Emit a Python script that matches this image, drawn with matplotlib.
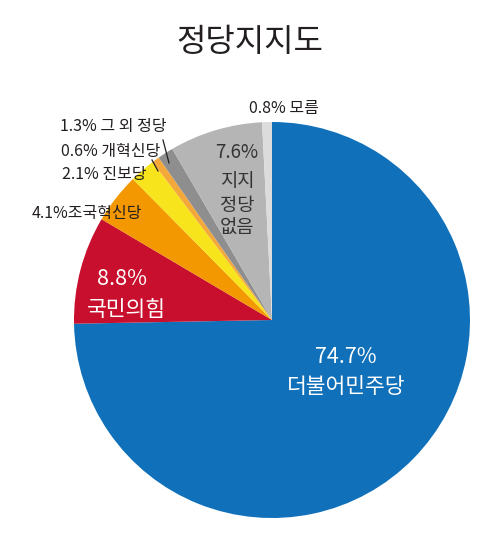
import matplotlib
matplotlib.use('Agg')
import matplotlib.pyplot as plt

plt.rcParams['font.family'] = ['Noto Sans CJK KR', 'DejaVu Sans']

parties = ['더불어민주당', '국민의힘', '조국혁신당', '진보당', '개혁신당', '그 외 정당', '지지 정당 없음', '모름']
shares = [74.7, 8.8, 4.1, 2.1, 0.6, 1.3, 7.6, 0.8]
colors = ['#1070b9', '#c8102e', '#f39800', '#f7e41c', '#f5a83a', '#8e8e8e', '#b5b5b5', '#dcdcdc']

fig = plt.figure(figsize=(5.0, 5.44), dpi=100)

# pie centre ~ (272, 320) px, radius ~198 px
cx, cy, r = 272, 320, 198
W, H = 500, 544
ax = fig.add_axes([(cx - r) / W, (H - cy - r) / H, 2 * r / W, 2 * r / H])
ax.pie(shares, colors=colors, startangle=90, counterclock=False, radius=1.0,
       wedgeprops=dict(linewidth=0))
ax.set_xlim(-1, 1)
ax.set_ylim(-1, 1)
ax.set_aspect('equal')
ax.axis('off')

def px(x, y):
    # pixel -> data coordinates
    return (x - cx) / r, (cy - y) / r

fig.text(0.5, 1 - 42 / H, '정당지지도', ha='center', va='center', fontsize=23, color='#231f20')

# inside labels
ax.text(*px(346, 357), f'{shares[0]}%', ha='center', va='center', fontsize=15.5, color='white')
ax.text(*px(346, 387), parties[0], ha='center', va='center', fontsize=15.5, color='white')
ax.text(*px(122, 279), f'{shares[1]}%', ha='center', va='center', fontsize=15.5, color='white')
ax.text(*px(126, 310), parties[1], ha='center', va='center', fontsize=15.5, color='white')
ax.text(*px(237, 152), f'{shares[6]}%', ha='center', va='center', fontsize=13.5, color='#333333')
for i, w in enumerate(['지지', '정당', '없음']):
    ax.text(*px(237, 182 + 23 * i), w, ha='center', va='center', fontsize=13.5, color='#333333')

# outside labels
out = [
    (2, 32, 213), (3, 62, 175), (4, 61, 151), (5, 60, 126),
]
for idx, x, y in out:
    sep = '' if idx == 2 else ' '
    ax.text(*px(x, y), f'{shares[idx]}%{sep}{parties[idx]}', ha='left', va='center',
            fontsize=11.5, color='#231f20')
ax.text(*px(284, 108), f'{shares[7]}% {parties[7]}', ha='center', va='center',
        fontsize=11.5, color='#231f20')

# leader lines
for (x0, y0), (x1, y1) in [((163, 140), (169, 163)), ((152, 160), (158, 171))]:
    a = px(x0, y0)
    b = px(x1, y1)
    ax.plot([a[0], b[0]], [a[1], b[1]], color='#231f20', lw=0.9, clip_on=False)

fig.savefig('out.png', dpi=100)
